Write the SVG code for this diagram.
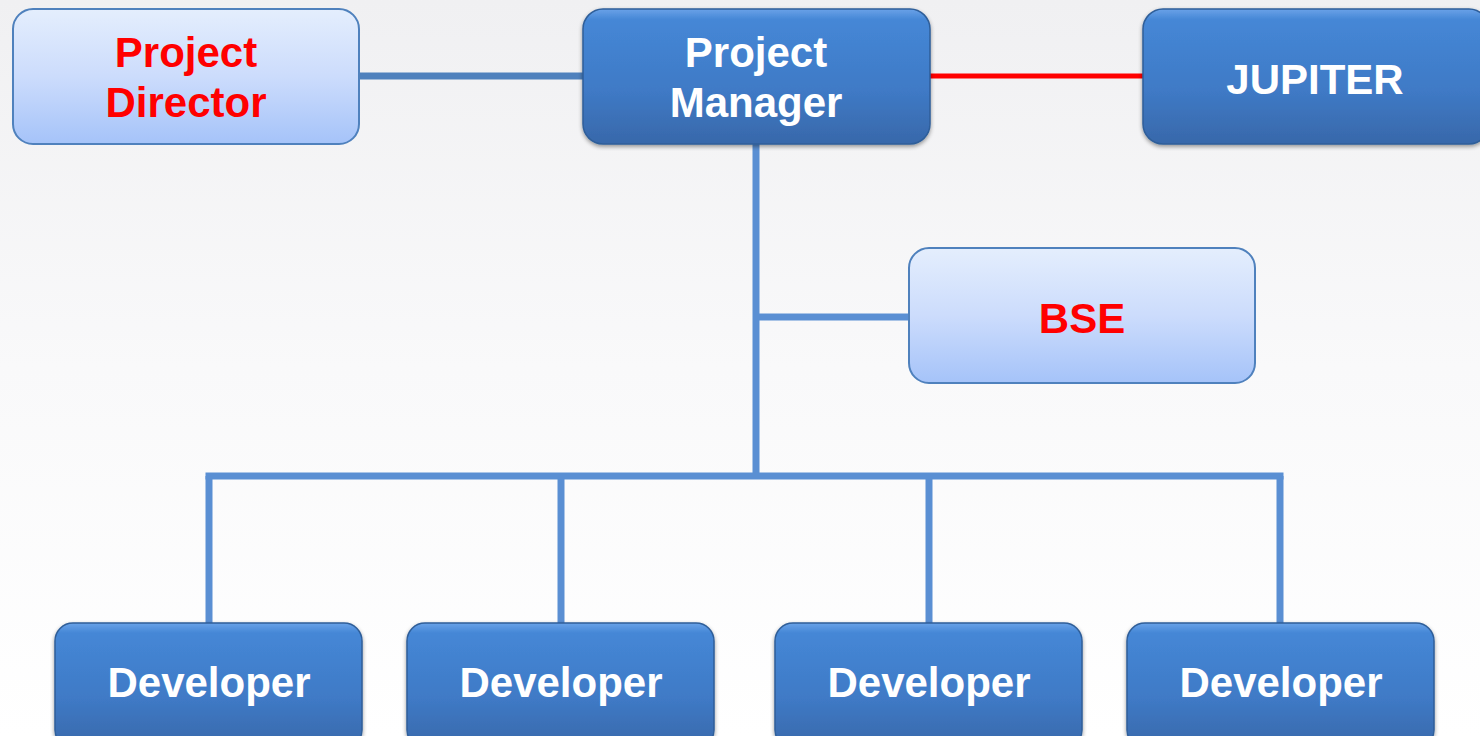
<svg xmlns="http://www.w3.org/2000/svg" width="1480" height="736" viewBox="0 0 1480 736">
<style>
.dark{fill:url(#gDark);stroke:#2f5e99;stroke-width:1.5;filter:url(#sh)}
.light{fill:url(#gLight);stroke:#4f81bd;stroke-width:2}
.t{font-family:"Liberation Sans",Arial,sans-serif;font-weight:bold;font-size:42px;text-anchor:middle}
.w{fill:#ffffff}
.r{fill:#ff0000}
.c{stroke:#5a8fd3;stroke-width:7;fill:none}
</style>
<defs>
<linearGradient id="bg" x1="0" y1="0" x2="0" y2="1">
<stop offset="0" stop-color="#f0f0f2"/>
<stop offset="0.5" stop-color="#f9f9fa"/>
<stop offset="1" stop-color="#ffffff"/>
</linearGradient>
<linearGradient id="gDark" x1="0" y1="0" x2="0" y2="1">
<stop offset="0" stop-color="#6aa2e8"/>
<stop offset="0.08" stop-color="#4587d6"/>
<stop offset="0.6" stop-color="#3f7ac6"/>
<stop offset="1" stop-color="#3868aa"/>
</linearGradient>
<linearGradient id="gLight" x1="0" y1="0" x2="0" y2="1">
<stop offset="0" stop-color="#e4eefd"/>
<stop offset="0.5" stop-color="#ccdcfc"/>
<stop offset="1" stop-color="#a5c3f9"/>
</linearGradient>
<filter id="sh" x="-10%" y="-10%" width="120%" height="130%">
<feGaussianBlur in="SourceAlpha" stdDeviation="2"/>
<feOffset dx="0" dy="2" result="b"/>
<feComponentTransfer><feFuncA type="linear" slope="0.4"/></feComponentTransfer>
<feMerge><feMergeNode/><feMergeNode in="SourceGraphic"/></feMerge>
</filter>
</defs>
<rect width="1480" height="736" fill="url(#bg)"/>
<g id="connectors">
<line x1="359" y1="76" x2="584" y2="76" stroke="#4f81bd" stroke-width="7"/>
<line x1="929" y1="76" x2="1144" y2="76" stroke="#ff0000" stroke-width="5"/>
<line class="c" x1="756" y1="143" x2="756" y2="476"/>
<line class="c" x1="756" y1="317" x2="910" y2="317"/>
<line class="c" x1="205.5" y1="476" x2="1283.5" y2="476"/>
<line class="c" x1="209" y1="476" x2="209" y2="624"/>
<line class="c" x1="561" y1="476" x2="561" y2="624"/>
<line class="c" x1="929" y1="476" x2="929" y2="624"/>
<line class="c" x1="1280" y1="476" x2="1280" y2="624"/>
</g>
<g id="director">
<rect class="light" x="13" y="9" width="346" height="135" rx="20"/>
<text class="t r" x="186" y="67">Project</text>
<text class="t r" x="186" y="117">Director</text>
</g>
<g id="manager">
<rect class="dark" x="583" y="9" width="347" height="135" rx="20"/>
<text class="t w" x="756" y="67">Project</text>
<text class="t w" x="756" y="117">Manager</text>
</g>
<g id="jupiter">
<rect class="dark" x="1143" y="9" width="346" height="135" rx="20"/>
<text class="t w" x="1315" y="94">JUPITER</text>
</g>
<g id="bse">
<rect class="light" x="909" y="248" width="346" height="135" rx="20"/>
<text class="t r" x="1082" y="333">BSE</text>
</g>
<g id="dev1">
<rect class="dark" x="55" y="623" width="307" height="125" rx="18"/>
<text class="t w" x="209" y="697">Developer</text>
</g>
<g id="dev2">
<rect class="dark" x="407" y="623" width="307" height="125" rx="18"/>
<text class="t w" x="561" y="697">Developer</text>
</g>
<g id="dev3">
<rect class="dark" x="775" y="623" width="307" height="125" rx="18"/>
<text class="t w" x="929" y="697">Developer</text>
</g>
<g id="dev4">
<rect class="dark" x="1127" y="623" width="307" height="125" rx="18"/>
<text class="t w" x="1281" y="697">Developer</text>
</g>
</svg>
